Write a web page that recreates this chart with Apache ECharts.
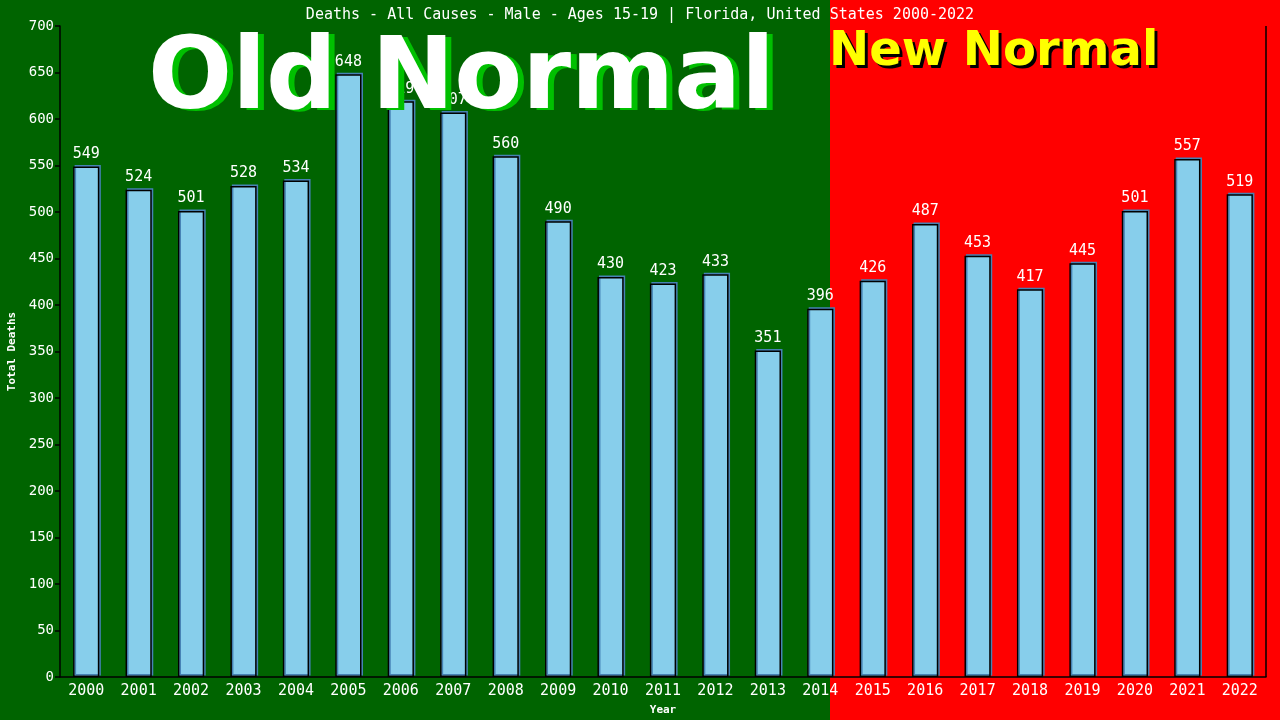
<!DOCTYPE html>
<html>
<head>
<meta charset="utf-8">
<script src="https://cdn.jsdelivr.net/npm/echarts@6/dist/echarts.min.js"></script>
<style>
html, body { margin: 0; padding: 0; background: #ff0000; }
#chart { width: 1280px; height: 720px; }
</style>
</head>
<body>
<div id="chart"></div>
<script>
var years = ['2000','2001','2002','2003','2004','2005','2006','2007','2008','2009','2010','2011',
    '2012','2013','2014','2015','2016','2017','2018','2019','2020','2021','2022'];
var deaths = [549, 524, 501, 528, 534, 648, 619, 607, 560, 490, 430, 423,
    433, 351, 396, 426, 487, 453, 417, 445, 501, 557, 519];
var yTicks = { min: 0, max: 700, interval: 50 };

var mono = 'DejaVu Sans Mono';
var chart = echarts.init(document.getElementById('chart'));

// big overlay words, drawn twice for the hard shadow
function bigText(txt, x, y, size, fill, shadow, dx, dy) {
    var font = 'bold ' + size + 'px "DejaVu Sans"';
    return [
        { type: 'text', z: 99, silent: true, left: x + dx, top: y + dy, style: { text: txt, fill: shadow, font: font } },
        { type: 'text', z: 100, silent: true, left: x, top: y, style: { text: txt, fill: fill, font: font } }
    ];
}

var option = {
    backgroundColor: '#ff0000',
    animation: false,
    title: {
        text: 'Deaths - All Causes - Male - Ages 15-19 | Florida, United States 2000-2022',
        left: 'center',
        top: 3,
        textStyle: { color: '#fff', fontFamily: mono, fontSize: 15, fontWeight: 'normal' }
    },
    grid: { left: 60, right: 14, top: 26, bottom: 43, outerBoundsMode: 'none' },
    xAxis: {
        type: 'category',
        data: years,
        name: 'Year',
        nameLocation: 'middle',
        nameGap: 28,
        nameTextStyle: { color: '#fff', fontFamily: mono, fontSize: 11, fontWeight: 'bold' },
        axisLine: { lineStyle: { color: '#000', width: 1.5 } },
        axisTick: { show: false },
        axisLabel: { color: '#fff', fontFamily: mono, fontSize: 15, margin: 7 }
    },
    yAxis: {
        type: 'value',
        min: yTicks.min,
        max: yTicks.max,
        interval: yTicks.interval,
        name: 'Total Deaths',
        nameLocation: 'middle',
        nameGap: 42,
        nameTextStyle: { color: '#fff', fontFamily: mono, fontSize: 11, fontWeight: 'bold' },
        axisLine: { show: true, lineStyle: { color: '#000', width: 1.5 } },
        axisTick: { show: true, length: 5, lineStyle: { color: '#000', width: 1.5 } },
        axisLabel: { color: '#fff', fontFamily: mono, fontSize: 14, margin: 6 },
        splitLine: { show: false }
    },
    series: [{
        type: 'bar',
        data: deaths,
        barWidth: '50%',
        itemStyle: {
            color: '#87ceeb',
            borderColor: '#000',
            borderWidth: 1.5,
            shadowColor: '#4682b4',
            shadowOffsetX: 1.5,
            shadowOffsetY: -1.5
        },
        label: {
            show: true,
            position: 'top',
            distance: 5,
            color: '#fff',
            fontFamily: mono,
            fontSize: 15
        }
    }],
    graphic: [
        { type: 'rect', z: -100, silent: true, shape: { x: 0, y: 0, width: 830, height: 720 }, style: { fill: '#006400' } },
        { type: 'line', z: 5, silent: true, shape: { x1: 1266, y1: 26, x2: 1266, y2: 677 }, style: { stroke: '#000', lineWidth: 1.5 } }
    ].concat(
        bigText('Old Normal', 148, 33, 99, '#fff', '#00c000', 6, 2),
        bigText('New Normal', 829, 29, 48, '#ffff00', '#000', 3, 3)
    )
};
chart.setOption(option);
</script>
</body>
</html>
